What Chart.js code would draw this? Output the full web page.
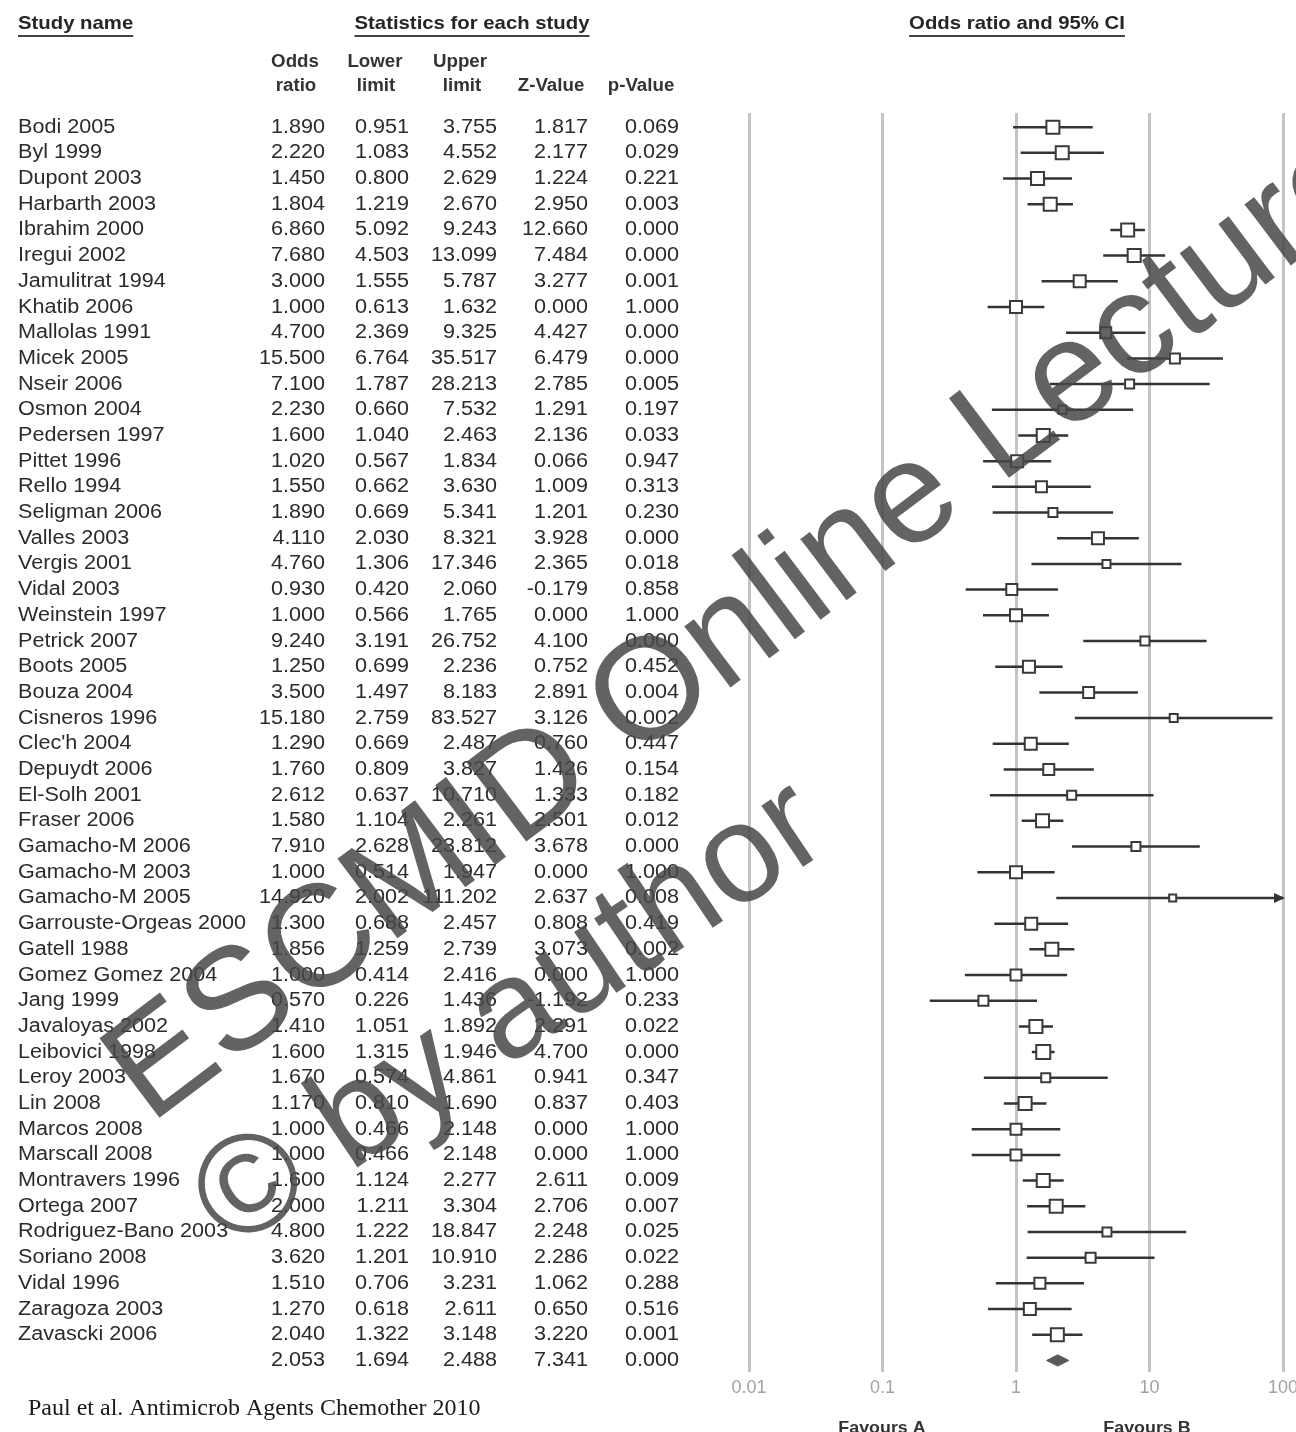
<!DOCTYPE html>
<html>
<head>
<meta charset="utf-8">
<script src="https://cdn.jsdelivr.net/npm/chart.js@4.4.0/dist/chart.umd.min.js"></script>
<style>
html, body { margin: 0; padding: 0; background: #fff; }
#wrap { width: 1296px; height: 1432px; }
</style>
</head>
<body>
<div id="wrap"><canvas id="forest" width="1296" height="1432"></canvas></div>
<script>
// rows of the table (last row = pooled estimate, no name)
var study_names = ['Bodi 2005', 'Byl 1999', 'Dupont 2003', 'Harbarth 2003', 'Ibrahim 2000', 'Iregui 2002',
    'Jamulitrat 1994', 'Khatib 2006', 'Mallolas 1991', 'Micek 2005', 'Nseir 2006', 'Osmon 2004',
    'Pedersen 1997', 'Pittet 1996', 'Rello 1994', 'Seligman 2006', 'Valles 2003', 'Vergis 2001',
    'Vidal 2003', 'Weinstein 1997', 'Petrick 2007', 'Boots 2005', 'Bouza 2004', 'Cisneros 1996',
    "Clec'h 2004", 'Depuydt 2006', 'El-Solh 2001', 'Fraser 2006', 'Gamacho-M 2006', 'Gamacho-M 2003',
    'Gamacho-M 2005', 'Garrouste-Orgeas 2000', 'Gatell 1988', 'Gomez Gomez 2004', 'Jang 1999',
    'Javaloyas 2002', 'Leibovici 1998', 'Leroy 2003', 'Lin 2008', 'Marcos 2008', 'Marscall 2008',
    'Montravers 1996', 'Ortega 2007', 'Rodriguez-Bano 2003', 'Soriano 2008', 'Vidal 1996',
    'Zaragoza 2003', 'Zavascki 2006', ''];
var odds_ratio = [1.890, 2.220, 1.450, 1.804, 6.860, 7.680, 3.000, 1.000, 4.700, 15.500, 7.100, 2.230,
    1.600, 1.020, 1.550, 1.890, 4.110, 4.760, 0.930, 1.000, 9.240, 1.250, 3.500, 15.180,
    1.290, 1.760, 2.612, 1.580, 7.910, 1.000, 14.920, 1.300, 1.856, 1.000, 0.570, 1.410,
    1.600, 1.670, 1.170, 1.000, 1.000, 1.600, 2.000, 4.800, 3.620, 1.510, 1.270, 2.040, 2.053];
var lower_limit = [0.951, 1.083, 0.800, 1.219, 5.092, 4.503, 1.555, 0.613, 2.369, 6.764, 1.787, 0.660,
    1.040, 0.567, 0.662, 0.669, 2.030, 1.306, 0.420, 0.566, 3.191, 0.699, 1.497, 2.759,
    0.669, 0.809, 0.637, 1.104, 2.628, 0.514, 2.002, 0.688, 1.259, 0.414, 0.226, 1.051,
    1.315, 0.574, 0.810, 0.466, 0.466, 1.124, 1.211, 1.222, 1.201, 0.706, 0.618, 1.322, 1.694];
var upper_limit = [3.755, 4.552, 2.629, 2.670, 9.243, 13.099, 5.787, 1.632, 9.325, 35.517, 28.213, 7.532,
    2.463, 1.834, 3.630, 5.341, 8.321, 17.346, 2.060, 1.765, 26.752, 2.236, 8.183, 83.527,
    2.487, 3.827, 10.710, 2.261, 23.812, 1.947, 111.202, 2.457, 2.739, 2.416, 1.436, 1.892,
    1.946, 4.861, 1.690, 2.148, 2.148, 2.277, 3.304, 18.847, 10.910, 3.231, 2.611, 3.148, 2.488];
var z_value = [1.817, 2.177, 1.224, 2.950, 12.660, 7.484, 3.277, 0.000, 4.427, 6.479, 2.785, 1.291,
    2.136, 0.066, 1.009, 1.201, 3.928, 2.365, -0.179, 0.000, 4.100, 0.752, 2.891, 3.126,
    0.760, 1.426, 1.333, 2.501, 3.678, 0.000, 2.637, 0.808, 3.073, 0.000, -1.192, 2.291,
    4.700, 0.941, 0.837, 0.000, 0.000, 2.611, 2.706, 2.248, 2.286, 1.062, 0.650, 3.220, 7.341];
var p_value = [0.069, 0.029, 0.221, 0.003, 0.000, 0.000, 0.001, 1.000, 0.000, 0.000, 0.005, 0.197,
    0.033, 0.947, 0.313, 0.230, 0.000, 0.018, 0.858, 1.000, 0.000, 0.452, 0.004, 0.002,
    0.447, 0.154, 0.182, 0.012, 0.000, 1.000, 0.008, 0.419, 0.002, 1.000, 0.233, 0.022,
    0.000, 0.347, 0.403, 1.000, 1.000, 0.009, 0.007, 0.025, 0.022, 0.288, 0.516, 0.001, 0.000];
// relative weight of each study
var study_weight = [13, 13, 13, 13, 13, 13, 12, 12, 11, 10, 9, 8,
    13, 12, 11, 9, 12, 8, 11, 12, 9, 12, 11, 8,
    12, 11, 9, 13, 9, 12, 7, 12, 13, 11, 10, 13,
    14, 9, 13, 11, 11, 13, 13, 9, 10, 11, 12, 13, 0];
var axis_ticks = [0.01, 0.1, 1, 10, 100];
var column_values = [odds_ratio, lower_limit, upper_limit, z_value, p_value];

var font_sans = '"Liberation Sans", Arial, sans-serif';
var text_color = '#2b2b2b';
var col_right = [325, 409, 497, 588, 679];

function put_text(ctx, txt, x, y, align, font, color, sx) {
    ctx.save();
    ctx.font = font;
    ctx.fillStyle = color;
    ctx.textBaseline = 'middle';
    ctx.textAlign = align;
    ctx.translate(x, y);
    ctx.scale(sx, 1);
    ctx.fillText(txt, 0, 0);
    var w = ctx.measureText(txt).width * sx;
    ctx.restore();
    return w;
}

function heading(ctx, txt, x, y, align) {
    var font = 'bold 19px ' + font_sans;
    var w = put_text(ctx, txt, x, y, align, font, '#262626', 1.07);
    var left = align === 'center' ? x - w / 2 : x;
    ctx.save();
    ctx.strokeStyle = '#444';
    ctx.lineWidth = 2;
    ctx.beginPath();
    ctx.moveTo(left, y + 12);
    ctx.lineTo(left + w, y + 12);
    ctx.stroke();
    ctx.restore();
}

function watermark(ctx, txt, x, y, deg, size) {
    ctx.save();
    ctx.fillStyle = 'rgba(72,72,72,0.85)';
    ctx.font = size + 'px ' + font_sans;
    ctx.textBaseline = 'alphabetic';
    ctx.textAlign = 'left';
    ctx.translate(x, y);
    ctx.rotate(deg * Math.PI / 180);
    ctx.fillText(txt, 0, 0);
    ctx.restore();
}

var tablePlugin = {
    id: 'tablePlugin',
    afterDraw: function (chart) {
        var ctx = chart.ctx;
        var ys = chart.scales.y;
        var xs = chart.scales.x;

        heading(ctx, 'Study name', 18, 24, 'left');
        heading(ctx, 'Statistics for each study', 472, 24, 'center');
        heading(ctx, 'Odds ratio and 95% CI', 1017, 24, 'center');

        var sub = 'bold 18px ' + font_sans;
        put_text(ctx, 'Odds', 295, 62, 'center', sub, '#333', 1.04);
        put_text(ctx, 'Lower', 375, 62, 'center', sub, '#333', 1.04);
        put_text(ctx, 'Upper', 460, 62, 'center', sub, '#333', 1.04);
        put_text(ctx, 'ratio', 296, 86, 'center', sub, '#333', 1.04);
        put_text(ctx, 'limit', 376, 86, 'center', sub, '#333', 1.04);
        put_text(ctx, 'limit', 462, 86, 'center', sub, '#333', 1.04);
        put_text(ctx, 'Z-Value', 551, 86, 'center', sub, '#333', 1.04);
        put_text(ctx, 'p-Value', 641, 86, 'center', sub, '#333', 1.04);

        var rowFont = '20px ' + font_sans;
        for (var i = 0; i < study_names.length; i++) {
            var y = ys.getPixelForValue(i);
            put_text(ctx, study_names[i], 18, y, 'left', rowFont, text_color, 1.08);
            for (var c = 0; c < column_values.length; c++) {
                put_text(ctx, column_values[c][i].toFixed(3), col_right[c], y, 'right', rowFont, text_color, 1.08);
            }
            // arrow where the interval runs past the axis
            if (upper_limit[i] > axis_ticks[axis_ticks.length - 1]) {
                var xe = xs.getPixelForValue(axis_ticks[axis_ticks.length - 1]);
                ctx.save();
                ctx.fillStyle = '#333';
                ctx.beginPath();
                ctx.moveTo(xe + 2, y);
                ctx.lineTo(xe - 9, y - 5);
                ctx.lineTo(xe - 9, y + 5);
                ctx.closePath();
                ctx.fill();
                ctx.restore();
            }
        }

        put_text(ctx, 'Favours A', 882, 1428, 'center', 'bold 17px ' + font_sans, '#333', 1.05);
        put_text(ctx, 'Favours B', 1147, 1428, 'center', 'bold 17px ' + font_sans, '#333', 1.05);

        put_text(ctx, 'Paul et al. Antimicrob Agents Chemother 2010', 28, 1409, 'left',
            '24px "Liberation Serif", "Times New Roman", serif', '#1a1a1a', 1.0);

        watermark(ctx, 'ESCMID Online Lecture Library', 150, 1125, -37, 145);
        watermark(ctx, '\u00a9 by author', 232, 1252, -34, 140);
    }
};

var n_studies = study_names.length - 1;
var box_points = [];
var ci_points = [];
for (var i = 0; i < n_studies; i++) {
    box_points.push({ x: odds_ratio[i], y: i });
    ci_points.push({ x: lower_limit[i], y: i }, { x: upper_limit[i], y: i }, { x: null, y: null });
}
var s = n_studies;
var diamond_points = [
    { x: lower_limit[s], y: s }, { x: odds_ratio[s], y: s - 0.22 },
    { x: upper_limit[s], y: s }, { x: odds_ratio[s], y: s + 0.22 },
    { x: lower_limit[s], y: s }
];

var ctx = document.getElementById('forest').getContext('2d');
var myChart = new Chart(ctx, {
    type: 'scatter',
    data: {
        datasets: [{
            label: 'Odds ratio',
            data: box_points,
            pointStyle: 'rect',
            pointRadius: function (c) { return study_weight[c.dataIndex] / 1.414; },
            pointHoverRadius: function (c) { return study_weight[c.dataIndex] / 1.414; },
            backgroundColor: '#ffffff',
            borderColor: '#3a3a3a',
            pointBorderWidth: 2,
            order: 0
        }, {
            label: '95% CI',
            data: ci_points,
            showLine: true,
            spanGaps: false,
            borderColor: '#333333',
            borderWidth: 2.5,
            pointRadius: 0,
            clip: 0,
            order: 1
        }, {
            label: 'Pooled',
            data: diamond_points,
            showLine: true,
            borderColor: '#5a5a5a',
            backgroundColor: '#5a5a5a',
            borderWidth: 1,
            fill: 'shape',
            pointRadius: 0,
            order: 2
        }]
    },
    options: {
        responsive: false,
        animation: false,
        devicePixelRatio: 1,
        layout: { padding: { left: 749, right: 13, top: 113, bottom: 0 } },
        plugins: { legend: { display: false }, tooltip: { enabled: false } },
        scales: {
            x: {
                type: 'logarithmic',
                position: 'bottom',
                min: 0.01,
                max: 100,
                afterBuildTicks: function (sc) {
                    sc.ticks = axis_ticks.map(function (v) { return { value: v }; });
                },
                afterFit: function (sc) {
                    sc.paddingLeft = 0;
                    sc.paddingRight = 0;
                    sc.height = 60;
                },
                grid: { color: '#c4c4c4', lineWidth: 3, drawTicks: false },
                border: { display: false },
                ticks: {
                    color: '#a3a3a3',
                    font: { family: font_sans, size: 18 },
                    padding: 5,
                    maxRotation: 0,
                    autoSkip: false,
                    callback: function (v) { return String(v); }
                }
            },
            y: {
                type: 'linear',
                display: false,
                reverse: true,
                min: -0.55,
                max: 48.45
            }
        }
    },
    plugins: [tablePlugin]
});
</script>
</body>
</html>
